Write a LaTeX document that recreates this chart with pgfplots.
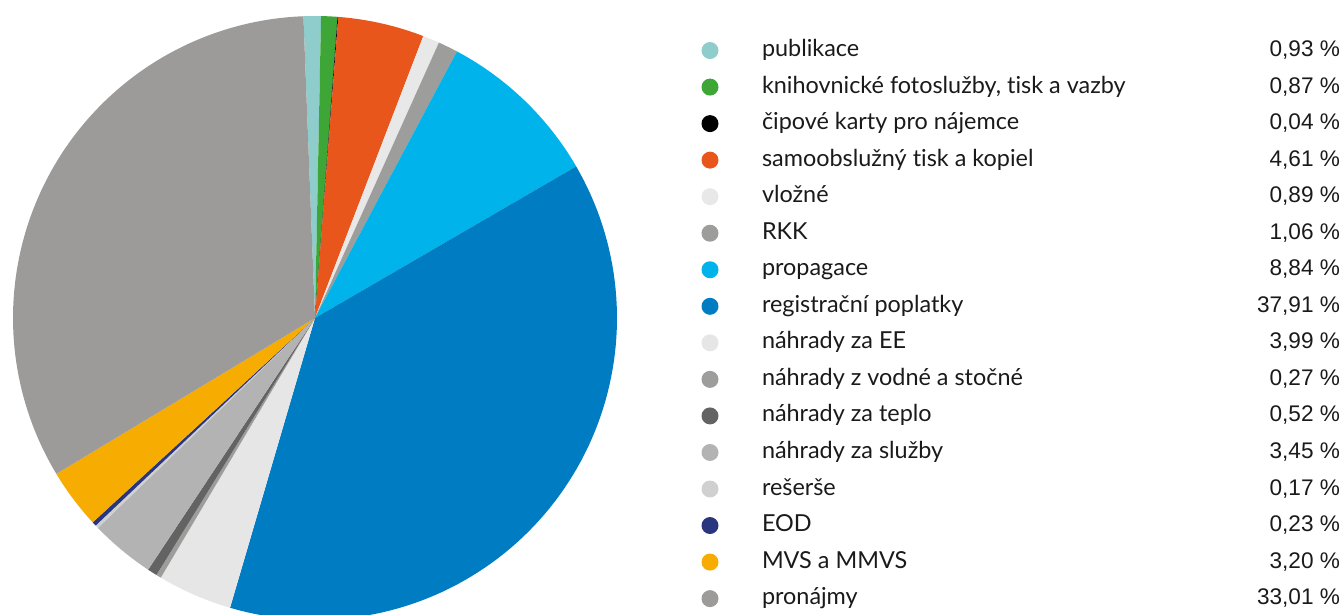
\documentclass[border=0pt]{standalone}
\usepackage{pgfplots}
\pgfplotsset{compat=1.18}
\usepackage{fontspec}
\setmainfont{Lato}[Ligatures=NoCommon]
\newfontfamily\numfont{Liberation Sans}
\definecolor{cPub}{HTML}{8FCDCC}
\definecolor{cKni}{HTML}{3DA637}
\definecolor{cCip}{HTML}{000000}
\definecolor{cSam}{HTML}{E9561B}
\definecolor{cVlo}{HTML}{E8E8E8}
\definecolor{cRKK}{HTML}{9D9D9C}
\definecolor{cPro}{HTML}{00B3EA}
\definecolor{cReg}{HTML}{007CC3}
\definecolor{cEE}{HTML}{E6E6E6}
\definecolor{cVod}{HTML}{9D9D9C}
\definecolor{cTep}{HTML}{636363}
\definecolor{cSlu}{HTML}{B3B3B3}
\definecolor{cRes}{HTML}{D0D0D0}
\definecolor{cEOD}{HTML}{29367F}
\definecolor{cMVS}{HTML}{F6AC00}
\definecolor{cPrn}{HTML}{9C9B9A}
\definecolor{txt}{HTML}{1A1A1A}
\newcommand\LE[2]{\hbox to 289pt{#1\hfill{\numfont\fontsize{11.3pt}{13pt}\selectfont #2 \%}}}
\begin{document}
\begin{tikzpicture}
\useasboundingbox (0,0) rectangle (672pt,307.5pt);
\begin{axis}[
  at={(157.5pt,148.5pt)}, anchor=center,
  scale only axis, width=302pt, height=302pt,
  xmin=-1, xmax=1, ymin=-1, ymax=1,
  hide axis, clip=false,
  samples=90,
  legend cell align=left,
  legend image code/.code={\fill[#1] (0pt,0pt) circle (4.25pt);},
  legend style={draw=none, fill=none, inner sep=0pt, outer sep=0pt,
    at={(1.1399,0.9627)}, anchor=north west,
    row sep=6.27pt, column sep=21.75pt,
    font=\fontsize{11.7pt}{13pt}\selectfont\color{txt},
    nodes={inner sep=0pt, text height=9pt, text depth=3pt}},
]
% wedges: domain = cumulative percentage interval, clockwise from top
\addplot[fill=cPub, draw=none, domain=0:0.93]   ({sin(3.6*x-2.2)},{cos(3.6*x-2.2)}) -- (axis cs:0,0) -- cycle;
\addplot[fill=cKni, draw=none, domain=0.93:1.80] ({sin(3.6*x-2.2)},{cos(3.6*x-2.2)}) -- (axis cs:0,0) -- cycle;
\addplot[fill=cCip, draw=none, domain=1.80:1.84] ({sin(3.6*x-2.2)},{cos(3.6*x-2.2)}) -- (axis cs:0,0) -- cycle;
\addplot[fill=cSam, draw=none, domain=1.84:6.45] ({sin(3.6*x-2.2)},{cos(3.6*x-2.2)}) -- (axis cs:0,0) -- cycle;
\addplot[fill=cVlo, draw=none, domain=6.45:7.34] ({sin(3.6*x-2.2)},{cos(3.6*x-2.2)}) -- (axis cs:0,0) -- cycle;
\addplot[fill=cRKK, draw=none, domain=7.34:8.40] ({sin(3.6*x-2.2)},{cos(3.6*x-2.2)}) -- (axis cs:0,0) -- cycle;
\addplot[fill=cPro, draw=none, domain=8.40:17.24] ({sin(3.6*x-2.2)},{cos(3.6*x-2.2)}) -- (axis cs:0,0) -- cycle;
\addplot[fill=cReg, draw=none, domain=17.24:55.15] ({sin(3.6*x-2.2)},{cos(3.6*x-2.2)}) -- (axis cs:0,0) -- cycle;
\addplot[fill=cEE, draw=none, domain=55.15:59.14] ({sin(3.6*x-2.2)},{cos(3.6*x-2.2)}) -- (axis cs:0,0) -- cycle;
\addplot[fill=cVod, draw=none, domain=59.14:59.41] ({sin(3.6*x-2.2)},{cos(3.6*x-2.2)}) -- (axis cs:0,0) -- cycle;
\addplot[fill=cTep, draw=none, domain=59.41:59.93] ({sin(3.6*x-2.2)},{cos(3.6*x-2.2)}) -- (axis cs:0,0) -- cycle;
\addplot[fill=cSlu, draw=none, domain=59.93:63.38] ({sin(3.6*x-2.2)},{cos(3.6*x-2.2)}) -- (axis cs:0,0) -- cycle;
\addplot[fill=cRes, draw=none, domain=63.38:63.55] ({sin(3.6*x-2.2)},{cos(3.6*x-2.2)}) -- (axis cs:0,0) -- cycle;
\addplot[fill=cEOD, draw=none, domain=63.55:63.78] ({sin(3.6*x-2.2)},{cos(3.6*x-2.2)}) -- (axis cs:0,0) -- cycle;
\addplot[fill=cMVS, draw=none, domain=63.78:66.98] ({sin(3.6*x-2.2)},{cos(3.6*x-2.2)}) -- (axis cs:0,0) -- cycle;
\addplot[fill=cPrn, draw=none, domain=66.98:100] ({sin(3.6*x-2.2)},{cos(3.6*x-2.2)}) -- (axis cs:0,0) -- cycle;
\legend{
 \LE{publikace}{0,93},
 \LE{knihovnické fotoslužby, tisk a vazby}{0,87},
 \LE{čipové karty pro nájemce}{0,04},
 \LE{samoobslužný tisk a kopiel}{4,61},
 \LE{vložné}{0,89},
 \LE{RKK}{1,06},
 \LE{propagace}{8,84},
 \LE{registrační poplatky}{37,91},
 \LE{náhrady za EE}{3,99},
 \LE{náhrady z vodné a stočné}{0,27},
 \LE{náhrady za teplo}{0,52},
 \LE{náhrady za služby}{3,45},
 \LE{rešerše}{0,17},
 \LE{EOD}{0,23},
 \LE{MVS a MMVS}{3,20},
 \LE{pronájmy}{33,01}}
\end{axis}
\end{tikzpicture}
\end{document}
